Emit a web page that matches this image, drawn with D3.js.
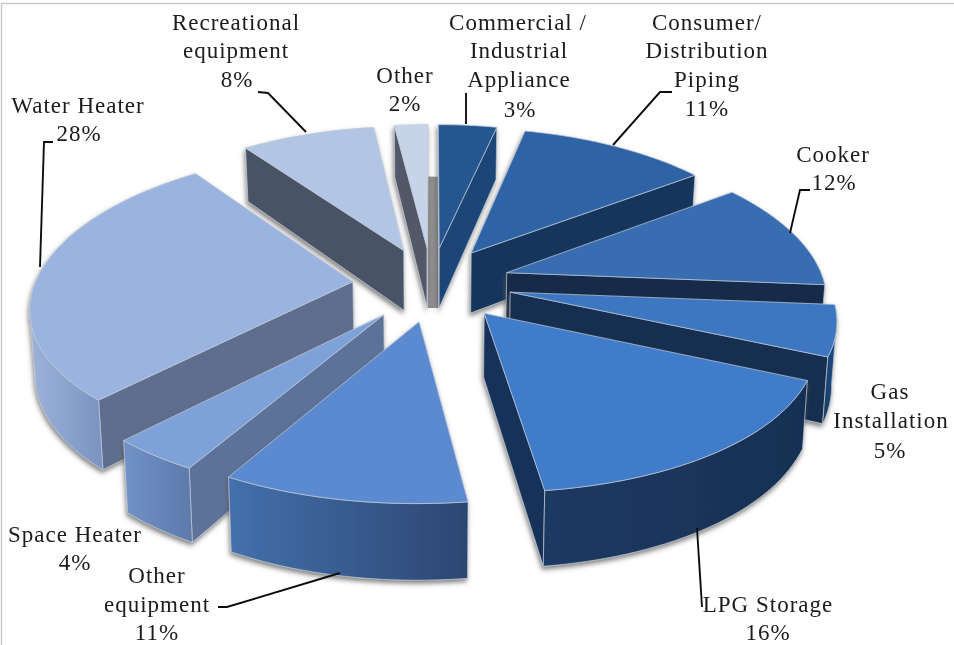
<!DOCTYPE html>
<html><head><meta charset="utf-8">
<script src="https://cdn.jsdelivr.net/npm/d3@7"></script>
<style>html,body{margin:0;padding:0;background:#fff}svg{display:block}</style>
</head><body><svg id="c" width="954" height="645"></svg>
<script>
// ---- data ----
const categories = ["Commercial / Industrial Appliance","Consumer/ Distribution Piping","Cooker","Gas Installation","LPG Storage","Other equipment","Space Heater","Water Heater","Recreational equipment","Other"];
const values = [3,11,12,5,16,11,4,28,8,2];
// ---- style ----
const topColors  = ["#27578f","#2f64a6","#376db1","#3c77c1","#3f7cc9","#5b8ad1","#7ea1d9","#9bb4df","#b3c5e4","#c7d3e9"];
const radColors  = ["#1e4578","#18365c","#15294a","#162d4f","#183259","#2f4a78","#5d7299","#5e6e8f","#4a5266","#525868"];
const outerFrom  = ["#1e4578","#1a3a62","#17304f","#1b3a63","#1e3a63","#4470ac","#7192c8","#9cb2da","#8a97b4","#9aa5bb"];
const outerTo    = ["#1e4578","#18365c","#152a4a","#1f4f8a","#172f52","#2c4672","#5c79ab","#7a93bf","#6a7791","#8a95ab"];
const labelLayout = [
 {lines:[["Commercial /",518,30],["Industrial",519,58],["Appliance",519,87],["3%",520,117]],leader:[[466,93],[466,124]]},
 {lines:[["Consumer/",707,30],["Distribution",707,58],["Piping",707,87],["11%",707,116]],leader:[[672,92],[660,92],[613,145]]},
 {lines:[["Cooker",833,162],["12%",834,190]],leader:[[810,190],[800,190],[790,233]]},
 {lines:[["Gas",890,399],["Installation",891,428],["5%",890,458]],leader:null},
 {lines:[["LPG Storage",768,612],["16%",768,640]],leader:[[702,607],[697,528]]},
 {lines:[["Other",157,583],["equipment",157,612],["11%",157,640]],leader:[[218,607],[227,607],[340,573]]},
 {lines:[["Space Heater",75,542],["4%",75,570]],leader:null},
 {lines:[["Water Heater",78,113],["28%",79,141]],leader:[[53,142],[44,142],[40,267]]},
 {lines:[["Recreational",236,30],["equipment",236,58],["8%",237,87]],leader:[[258,92],[268,93],[306,132]]},
 {lines:[["Other",405,83],["2%",405,111]],leader:null}
];
// ---- camera ----
const cx=432, cy=284, Rx=318, Ry=148, K=0.153, Ky=0.128, Depth=62, explode=0.25, taper=0.013;
const project=(X,Y,Z)=>{
  const s=1/(1-K*Y), sy=1/(1-Ky*Y);
  return [cx+Rx*X*s*(1-taper*Z), cy+Ry*Y*sy+Z*Depth*s];
};
// small lens correction of the drawn angles (values stay as labelled)
const deg=Math.PI/180;
const warp=a=>{
  const d=a/deg;
  if(d>0&&d<90) return a+3*deg*Math.sqrt(Math.sin(Math.PI*d/90));
  if(d>90&&d<210) return a+3.5*deg*Math.sqrt(Math.sin(Math.PI*(d-90)/120));
  return a;
};

const svg=d3.select("#c");
const defs=svg.append("defs");
const f=defs.append("filter").attr("id","sh").attr("x","-20%").attr("y","-20%").attr("width","140%").attr("height","140%");
f.append("feGaussianBlur").attr("in","SourceAlpha").attr("stdDeviation",2.4).attr("result","b");
f.append("feOffset").attr("in","b").attr("dx",-1).attr("dy",3).attr("result","o");
f.append("feFlood").attr("flood-color","#555").attr("flood-opacity",.75);
f.append("feComposite").attr("in2","o").attr("operator","in").attr("result","s");
const m=f.append("feMerge");m.append("feMergeNode").attr("in","s");m.append("feMergeNode").attr("in","SourceGraphic");
const soft=defs.append("filter").attr("id","soft");soft.append("feGaussianBlur").attr("stdDeviation",0.45);

const pie=d3.pie().sort(null).value(d=>d)(values);
const line=d3.line();
const closed=pts=>line(pts)+"Z";
const root=svg.append("g").attr("filter","url(#soft)");

root.append("path").attr("d","M1.5,645V3.5H954").attr("fill","none").attr("stroke","#c9c9c9").attr("stroke-width",1.4);

const slices=pie.map((p,i)=>{
  const mid=(p.startAngle+p.endAngle)/2;
  const ox=explode*Math.sin(mid), oy=-explode*Math.cos(mid);
  const rim=a=>{const w=warp(a);return [ox+Math.sin(w),oy-Math.cos(w)];};
  return {i,p,mid,ox,oy,rim,depthKey:oy-Math.cos(mid)*0.5};
});

(function(){
  const a=slices[slices.length-1], b=slices[0];
  const A=a.rim(a.p.endAngle), B=b.rim(b.p.startAngle);
  const pts=[project(A[0],A[1],1),project(B[0],B[1],1),project(b.ox,b.oy,1),project(a.ox,a.oy,1)];
  root.append("path").attr("d",closed(pts)).attr("fill","#8f8f8f");
})();

const cross=(u,v)=>u[0]*v[1]-u[1]*v[0];
const sub=(a,b)=>[a[0]-b[0],a[1]-b[1]];

slices.slice().sort((a,b)=>a.depthKey-b.depthKey).forEach(sl=>{
  const {i,p,ox,oy,rim}=sl;
  const g=root.append("g").attr("filter","url(#sh)");
  const n=Math.max(8,Math.ceil((p.endAngle-p.startAngle)/0.03));
  const angs=d3.range(n+1).map(k=>p.startAngle+(p.endAngle-p.startAngle)*k/n);
  const apex=project(ox,oy,0), apexB=project(ox,oy,1);
  const topPts=angs.map(a=>{const r=rim(a);return project(r[0],r[1],0);});
  const edge={stroke:"#c3cbd6","stroke-width":.7,"stroke-linejoin":"round"};
  const face=(d,fill)=>{const e=g.append("path").attr("d",d).attr("fill",fill);
    Object.entries(edge).forEach(([k,v])=>e.attr(k,v));return e;};
  [[p.startAngle,topPts[n]],[p.endAngle,topPts[0]]].forEach(([a,other])=>{
    const r=rim(a), P=project(r[0],r[1],0), PB=project(r[0],r[1],1);
    const axis=sub(P,apex);
    const inner=cross(axis,sub(other,apex)), down=cross(axis,[0,1]);
    if(inner*down<0) face(closed([apex,P,PB,apexB]),radColors[i]);
  });
  const vis=[];
  for(let k=0;k<n;k++){
    const t=sub(topPts[k+1],topPts[k]);
    const inward=sub(apex,topPts[k]);
    if(cross(t,inward)*cross(t,[0,1])<0) vis.push(k);
  }
  if(vis.length){
    const gid="og"+i;
    const lg=defs.append("linearGradient").attr("id",gid);
    lg.append("stop").attr("offset",0).attr("stop-color",outerFrom[i]);
    lg.append("stop").attr("offset",1).attr("stop-color",outerTo[i]);
    const a0=vis[0], a1=vis[vis.length-1]+1;
    const ks=d3.range(a0,a1+1);
    const up=ks.map(k=>topPts[k]);
    const dn=ks.map(k=>{const r=rim(angs[k]);return project(r[0],r[1],1);}).reverse();
    face(closed(up.concat(dn)),`url(#${gid})`);
  }
  face(closed([apex].concat(topPts)),topColors[i]);
});

labelLayout.forEach(l=>{ if(l.leader) root.append("path").attr("d",line(l.leader)).attr("fill","none").attr("stroke","#111").attr("stroke-width",1.9);});
labelLayout.forEach(l=>l.lines.forEach(([t,x,y])=>{
  root.append("text").attr("x",x).attr("y",y).attr("text-anchor","middle")
   .attr("font-family","'Liberation Serif',serif").attr("font-size",23).attr("letter-spacing","1px")
   .attr("fill","#1a1a1a").text(t);
}));
</script></body></html>
